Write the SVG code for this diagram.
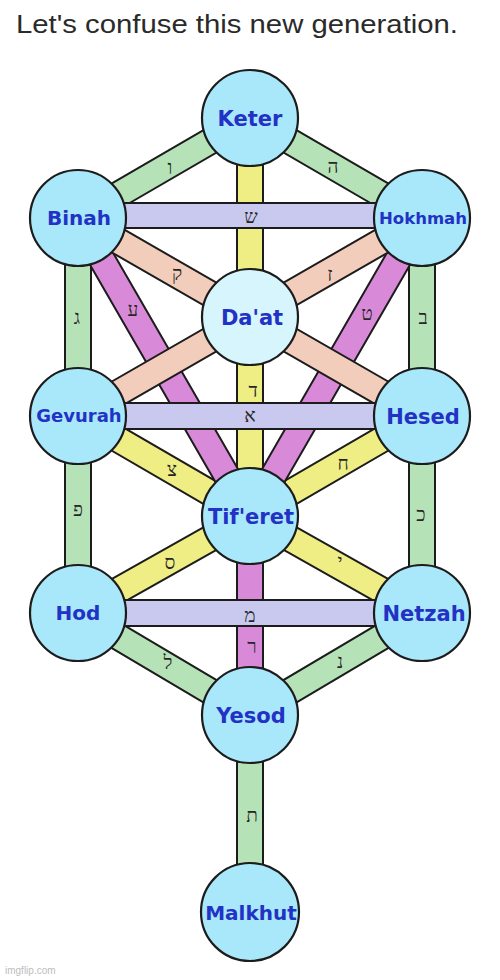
<svg xmlns="http://www.w3.org/2000/svg" width="500" height="980" viewBox="0 0 500 980">
<style>
.bar{stroke:#1c1c1c;stroke-width:2}
.g{fill:#b6e2b8}
.y{fill:#eeee84}
.m{fill:#d88ad8}
.s{fill:#f2cdbb}
.l{fill:#c9c9ef}
.ltr{font-family:"Liberation Serif","DejaVu Serif",serif;font-size:19px;fill:#262626;text-anchor:middle}
.node circle{fill:#a9e7fb;stroke:#1c1c1c;stroke-width:2.2}
.node text{font-family:"DejaVu Sans",Verdana,sans-serif;font-weight:bold;fill:#2232c4;text-anchor:middle}
</style>
<rect width="500" height="980" fill="#fff"/>
<text x="16" y="33" font-family="Liberation Sans, Arial, sans-serif" font-size="26" fill="#2a2a2a" textLength="442" lengthAdjust="spacingAndGlyphs">Let's confuse this new generation.</text>
<g id="connectors">
<!-- green paths -->
<rect class="bar g" x="0" y="-13" width="199" height="26" transform="translate(250 118) rotate(149.83)"/>
<rect class="bar g" x="0" y="-13" width="199" height="26" transform="translate(250 118) rotate(30.17)"/>
<rect class="bar g" x="65" y="218" width="26" height="198"/>
<rect class="bar g" x="409" y="218" width="26" height="198"/>
<rect class="bar g" x="65" y="416" width="26" height="197"/>
<rect class="bar g" x="409" y="416" width="26" height="197"/>
<rect class="bar g" x="0" y="-13" width="200" height="26" transform="translate(78 613) rotate(30.67)"/>
<rect class="bar g" x="0" y="-13" width="200" height="26" transform="translate(422 613) rotate(149.33)"/>
<rect class="bar g" x="237" y="715" width="26" height="197"/>
<!-- yellow paths -->
<rect class="bar y" x="237" y="118" width="26" height="398"/>
<rect class="bar y" x="0" y="-13" width="199" height="26" transform="translate(78 416) rotate(30.17)"/>
<rect class="bar y" x="0" y="-13" width="199" height="26" transform="translate(422 416) rotate(149.83)"/>
<rect class="bar y" x="0" y="-13" width="197.5" height="26" transform="translate(250 516) rotate(150.58)"/>
<rect class="bar y" x="0" y="-13" width="197.5" height="26" transform="translate(250 516) rotate(29.42)"/>
<!-- magenta paths -->
<rect class="bar m" x="0" y="-13" width="344" height="26" transform="translate(78 218) rotate(60)"/>
<rect class="bar m" x="0" y="-13" width="344" height="26" transform="translate(422 218) rotate(120)"/>
<rect class="bar m" x="237" y="516" width="26" height="199"/>
<!-- salmon paths -->
<rect class="bar s" x="0" y="-13" width="397" height="26" transform="translate(78 218) rotate(29.92)"/>
<rect class="bar s" x="0" y="-13" width="397" height="26" transform="translate(422 218) rotate(150.08)"/>
<!-- lavender paths -->
<rect class="bar l" x="78" y="203" width="344" height="25"/>
<rect class="bar l" x="78" y="403" width="344" height="26"/>
<rect class="bar l" x="78" y="600" width="344" height="26"/>
<!-- letters -->
<text class="ltr" x="170" y="174">ו</text>
<text class="ltr" x="333" y="173">ה</text>
<text class="ltr" x="251" y="223">ש</text>
<text class="ltr" x="177" y="280">ק</text>
<text class="ltr" x="330" y="281">ז</text>
<text class="ltr" x="77" y="324">ג</text>
<text class="ltr" x="133" y="316">ע</text>
<text class="ltr" x="367" y="320">ט</text>
<text class="ltr" x="423" y="324">ב</text>
<text class="ltr" x="253" y="397">ד</text>
<text class="ltr" x="250" y="422">א</text>
<text class="ltr" x="172" y="476">צ</text>
<text class="ltr" x="343" y="470">ח</text>
<text class="ltr" x="78" y="516">פ</text>
<text class="ltr" x="421" y="521">כ</text>
<text class="ltr" x="170" y="569">ס</text>
<text class="ltr" x="340" y="568">י</text>
<text class="ltr" x="250" y="622">מ</text>
<text class="ltr" x="252" y="653">ר</text>
<text class="ltr" x="168" y="669">ל</text>
<text class="ltr" x="340" y="668">נ</text>
<text class="ltr" x="252" y="822">ת</text>
</g>
<g id="keter" class="node"><circle cx="250" cy="118" r="48"/><text x="250" y="126" font-size="21">Keter</text></g>
<g id="binah" class="node"><circle cx="78" cy="218" r="48"/><text x="79" y="225" font-size="20">Binah</text></g>
<g id="hokhmah" class="node"><circle cx="422" cy="218" r="48"/><text x="423" y="224" font-size="16.5">Hokhmah</text></g>
<g id="daat" class="node"><circle cx="250" cy="317" r="48" style="fill:#d6f5fc"/><text x="252" y="325" font-size="21">Da'at</text></g>
<g id="gevurah" class="node"><circle cx="78" cy="416" r="48"/><text x="79" y="422" font-size="18">Gevurah</text></g>
<g id="hesed" class="node"><circle cx="422" cy="416" r="48"/><text x="423" y="424" font-size="21">Hesed</text></g>
<g id="tiferet" class="node"><circle cx="250" cy="516" r="48"/><text x="251" y="524" font-size="21">Tif'eret</text></g>
<g id="hod" class="node"><circle cx="78" cy="613" r="48"/><text x="78" y="620" font-size="20">Hod</text></g>
<g id="netzah" class="node"><circle cx="422" cy="613" r="48"/><text x="424" y="621" font-size="21">Netzah</text></g>
<g id="yesod" class="node"><circle cx="250" cy="715" r="48"/><text x="251" y="723" font-size="21">Yesod</text></g>
<g id="malkhut" class="node"><circle cx="250" cy="912" r="49"/><text x="251" y="920" font-size="20">Malkhut</text></g>
<text x="5" y="974" font-family="Liberation Sans, Arial, sans-serif" font-size="10" fill="#bdbdbd">imgflip.com</text>
</svg>
